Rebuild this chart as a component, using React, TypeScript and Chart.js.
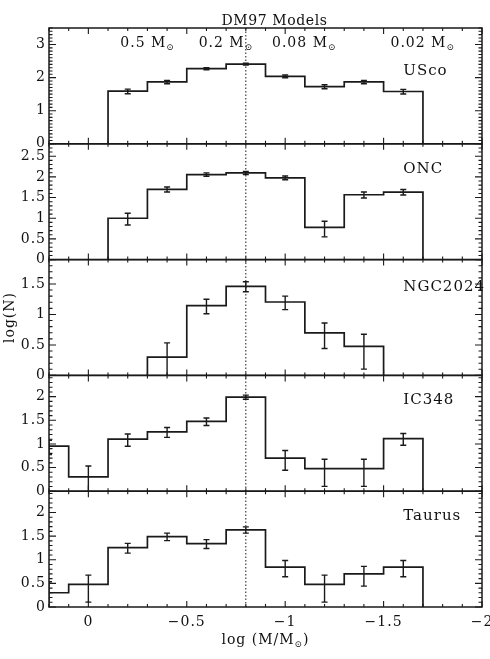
import React, { useEffect, useRef } from 'react';
import { Chart, registerables } from 'chart.js';

Chart.register(...registerables);

// ---------- data ----------
const binCenters = [0.2, 0, -0.2, -0.4, -0.6, -0.8, -1.0, -1.2, -1.4, -1.6];
const binWidth = 0.2;

const panelNames = ['USco', 'ONC', 'NGC2024', 'IC348', 'Taurus'];
const panelYMax = [3.5, 2.8, 1.9, 2.45, 2.45];
const panelYStep = [1, 0.5, 0.5, 0.5, 0.5];
const panelLabelY = [2.2, 2.2, 1.45, 1.92, 1.93];

const uscoLogN = [null, null, 1.59, 1.87, 2.27, 2.41, 2.04, 1.73, 1.87, 1.58];
const uscoHi = [null, null, 1.654, 1.918, 2.3, 2.436, 2.08, 1.785, 1.918, 1.645];
const uscoLo = [null, null, 1.514, 1.816, 2.237, 2.382, 1.996, 1.666, 1.816, 1.503];

const oncLogN = [null, null, 1.0, 1.699, 2.057, 2.097, 1.978, 0.778, 1.568, 1.633];
const oncHi = [null, null, 1.119, 1.756, 2.096, 2.134, 2.02, 0.927, 1.634, 1.695];
const oncLo = [null, null, 0.835, 1.633, 2.014, 2.056, 1.931, 0.55, 1.49, 1.561];

const ngcLogN = [null, null, null, 0.301, 1.146, 1.462, 1.204, 0.699, 0.477, null];
const ngcHi = [null, null, null, 0.533, 1.249, 1.536, 1.301, 0.86, 0.675, null];
const ngcLo = [null, null, null, -0.232, 1.011, 1.373, 1.079, 0.442, 0.103, null];

const ic348LogN = [0.954, 0.301, 1.1, 1.255, 1.477, 1.991, 0.699, 0.477, 0.477, 1.114];
const ic348Hi = [1.079, 0.533, 1.21, 1.347, 1.55, 2.033, 0.86, 0.675, 0.675, 1.22];
const ic348Lo = [0.778, -0.232, 0.95, 1.139, 1.39, 1.945, 0.442, 0.103, 0.103, 0.973];

const taurusLogN = [0.301, 0.477, 1.255, 1.491, 1.342, 1.633, 0.845, 0.477, 0.699, 0.845];
const taurusHi = [0.533, 0.675, 1.347, 1.563, 1.426, 1.695, 0.984, 0.675, 0.86, 0.984];
const taurusLo = [-0.232, 0.103, 1.139, 1.405, 1.238, 1.562, 0.639, 0.103, 0.442, 0.639];

const panelValues = [uscoLogN, oncLogN, ngcLogN, ic348LogN, taurusLogN];
const panelHi = [uscoHi, oncHi, ngcHi, ic348Hi, taurusHi];
const panelLo = [uscoLo, oncLo, ngcLo, ic348Lo, taurusLo];

const massMarks = [0.5, 0.2, 0.08, 0.02];
const massMarkText = ['0.5', '0.2', '0.08', '0.02'];
const massMarkY = 2.93;
const peakLogM = -0.8;
const labelLogM = -1.6;

const titleText = 'DM97 Models';
const xTitlePrefix = 'log (M/M';
const xTitleSuffix = ')';
const yTitle = 'log(N)';

// ---------- styles ----------
const FAMILY = "'DejaVu Serif', serif";
const INK = '#1a1a1a';
const TEXT = '#111111';

function outline(vals: (number | null)[]) {
  const pts: { x: number; y: number }[] = [];
  let last = 0;
  vals.forEach((v, i) => {
    if (v == null) return;
    const l = binCenters[i] + binWidth / 2;
    const r = binCenters[i] - binWidth / 2;
    if (pts.length === 0) pts.push({ x: l, y: 0 });
    pts.push({ x: l, y: v }, { x: r, y: v });
    last = r;
  });
  pts.push({ x: last, y: 0 });
  return pts;
}

function fmtX(v: number) {
  const r = Math.round(v * 10) / 10;
  if (Math.abs(r) < 1e-9) return '0';
  return r < 0 ? '\u2212' + String(Math.abs(r)) : String(r);
}

function drawSunText(ctx: CanvasRenderingContext2D, prefix: string, suffix: string, cx: number, baseY: number, px: number, subPx: number) {
  const main = `${px}px ${FAMILY}`;
  const sub = `${subPx}px ${FAMILY}`;
  ctx.font = main;
  const w1 = ctx.measureText(prefix).width;
  const w3 = suffix ? ctx.measureText(suffix).width : 0;
  ctx.font = sub;
  const w2 = ctx.measureText('\u2299').width;
  let x = cx - (w1 + w2 + w3) / 2;
  ctx.textAlign = 'left';
  ctx.textBaseline = 'alphabetic';
  ctx.font = main;
  ctx.fillText(prefix, x, baseY);
  x += w1;
  ctx.font = sub;
  ctx.fillText('\u2299', x, baseY + 3);
  x += w2;
  if (suffix) {
    ctx.font = main;
    ctx.fillText(suffix, x, baseY);
  }
}

const decorPlugin = {
  id: 'decor',
  beforeDraw(chart: any) {
    chart.ctx.letterSpacing = '1px';
  },
  beforeDatasetsDraw(chart: any) {
    const ctx = chart.ctx as CanvasRenderingContext2D;
    const area = chart.chartArea;
    const xs = chart.scales.x;
    const px = xs.getPixelForValue(peakLogM);
    ctx.save();
    ctx.strokeStyle = INK;
    ctx.lineWidth = 1;
    ctx.setLineDash([1.5, 2]);
    ctx.beginPath();
    ctx.moveTo(px, area.top);
    ctx.lineTo(px, area.bottom);
    ctx.stroke();
    ctx.restore();
  },
  afterDatasetsDraw(chart: any) {
    const ctx = chart.ctx as CanvasRenderingContext2D;
    const area = chart.chartArea;
    const xs = chart.scales.x;
    const w = area.right - area.left;
    ctx.save();
    ctx.setLineDash([]);
    panelNames.forEach((name, i) => {
      const ys = chart.scales['y' + i];
      const top = ys.top;
      const bot = ys.bottom;
      // error bars
      ctx.save();
      ctx.beginPath();
      ctx.rect(area.left, top, w, bot - top);
      ctx.clip();
      ctx.strokeStyle = INK;
      ctx.lineWidth = 1.4;
      const hi = panelHi[i];
      const lo = panelLo[i];
      binCenters.forEach((c, k) => {
        if (hi[k] == null || lo[k] == null) return;
        const x = xs.getPixelForValue(c);
        const yh = ys.getPixelForValue(hi[k] as number);
        const yl = ys.getPixelForValue(lo[k] as number);
        ctx.beginPath();
        ctx.moveTo(x, yh);
        ctx.lineTo(x, yl);
        ctx.moveTo(x - 3, yh);
        ctx.lineTo(x + 3, yh);
        ctx.moveTo(x - 3, yl);
        ctx.lineTo(x + 3, yl);
        ctx.stroke();
      });
      ctx.restore();

      // frame
      ctx.strokeStyle = INK;
      ctx.lineWidth = 1.5;
      ctx.strokeRect(area.left, top, w, bot - top);

      // y ticks (left & right, inward)
      ctx.lineWidth = 1.1;
      ctx.beginPath();
      const maxV = panelYMax[i];
      for (let t = 0; t <= maxV + 1e-9; t += 0.1) {
        const v = Math.round(t * 10) / 10;
        const isMajor = Math.abs(v / panelYStep[i] - Math.round(v / panelYStep[i])) < 1e-6;
        const len = isMajor ? 7 : 3.5;
        const y = ys.getPixelForValue(v);
        ctx.moveTo(area.left, y);
        ctx.lineTo(area.left + len, y);
        ctx.moveTo(area.right, y);
        ctx.lineTo(area.right - len, y);
      }
      // x ticks (top & bottom of panel, inward)
      for (let t = -2; t <= 0.2 + 1e-9; t += 0.1) {
        const v = Math.round(t * 10) / 10;
        const isMajor = Math.abs(v * 2 - Math.round(v * 2)) < 1e-6;
        const len = isMajor ? 6 : 3;
        const x = xs.getPixelForValue(v);
        ctx.moveTo(x, top);
        ctx.lineTo(x, top + len);
        ctx.moveTo(x, bot);
        ctx.lineTo(x, bot - len);
      }
      ctx.stroke();

      // panel name
      ctx.fillStyle = TEXT;
      ctx.font = `15px ${FAMILY}`;
      (ctx as any).letterSpacing = '1px';
      ctx.textAlign = 'left';
      ctx.textBaseline = 'middle';
      ctx.fillText(name, xs.getPixelForValue(labelLogM), ys.getPixelForValue(panelLabelY[i]));
    });

    // mass marks in top panel
    const y0 = chart.scales.y0;
    ctx.fillStyle = TEXT;
    (ctx as any).letterSpacing = '1px';
    massMarks.forEach((m, k) => {
      const x = xs.getPixelForValue(Math.log10(m));
      drawSunText(ctx, massMarkText[k] + ' M', '', x, y0.getPixelForValue(massMarkY), 14, 9);
    });

    // title
    ctx.font = `14px ${FAMILY}`;
    (ctx as any).letterSpacing = '0.6px';
    ctx.textAlign = 'center';
    ctx.textBaseline = 'alphabetic';
    ctx.fillText(titleText, (area.left + area.right) / 2 + 9, area.top - 3);

    // x title
    (ctx as any).letterSpacing = '1px';
    drawSunText(ctx, xTitlePrefix, xTitleSuffix, (area.left + area.right) / 2, area.bottom + 37, 14, 9);
    ctx.restore();
  },
};

export default function App() {
  const ref = useRef<HTMLCanvasElement | null>(null);
  useEffect(() => {
    if (!ref.current) return;
    const font = { family: FAMILY, size: 14 };
    const datasets = panelValues.map((vals, i) => ({
      label: panelNames[i],
      data: outline(vals),
      yAxisID: 'y' + i,
      borderColor: INK,
      borderWidth: 1.7,
      pointRadius: 0,
      pointHitRadius: 0,
      fill: false,
      tension: 0,
    }));
    const scales: any = {
      x: {
        type: 'linear',
        position: 'bottom',
        min: -2,
        max: 0.2,
        reverse: true,
        grid: { display: false, drawTicks: false },
        border: { display: false },
        ticks: {
          stepSize: 0.5,
          includeBounds: false,
          autoSkip: false,
          maxRotation: 0,
          padding: 7,
          font,
          color: TEXT,
          callback: (v: any) => fmtX(Number(v)),
        },
        afterFit: (s: any) => {
          s.height = 52;
          s.paddingLeft = 0;
          s.paddingRight = 0;
        },
      },
    };
    panelNames.forEach((_, i) => {
      scales['y' + i] = {
        type: 'linear',
        position: 'left',
        stack: 'panels',
        stackWeight: 1,
        weight: 5 - i,
        min: 0,
        max: panelYMax[i],
        grid: { display: false, drawTicks: false },
        border: { display: false },
        ticks: {
          stepSize: panelYStep[i],
          includeBounds: false,
          autoSkip: false,
          padding: 3,
          font,
          color: TEXT,
          callback: (v: any) => String(Math.round(Number(v) * 100) / 100),
        },
        title: i === 2
          ? { display: true, text: yTitle, font, color: TEXT, padding: { top: 2, bottom: 0 } }
          : { display: false },
        afterFit: (s: any) => {
          s.width = 49;
          s.paddingTop = 0;
          s.paddingBottom = 0;
        },
      };
    });
    const chart = new Chart(ref.current, {
      type: 'line',
      data: { datasets } as any,
      options: {
        animation: false,
        responsive: false,
        maintainAspectRatio: false,
        events: [],
        layout: { padding: { left: 0, right: 8, top: 28, bottom: 0 } },
        plugins: { legend: { display: false }, tooltip: { enabled: false }, title: { display: false } },
        scales,
      } as any,
      plugins: [decorPlugin as any],
    });
    return () => chart.destroy();
  }, []);
  return (
    <div style={{ position: 'absolute', left: 0, top: 0, width: 490, height: 659, background: '#fff' }}>
      <canvas ref={ref} width={490} height={659} style={{ display: 'block' }} />
    </div>
  );
}
